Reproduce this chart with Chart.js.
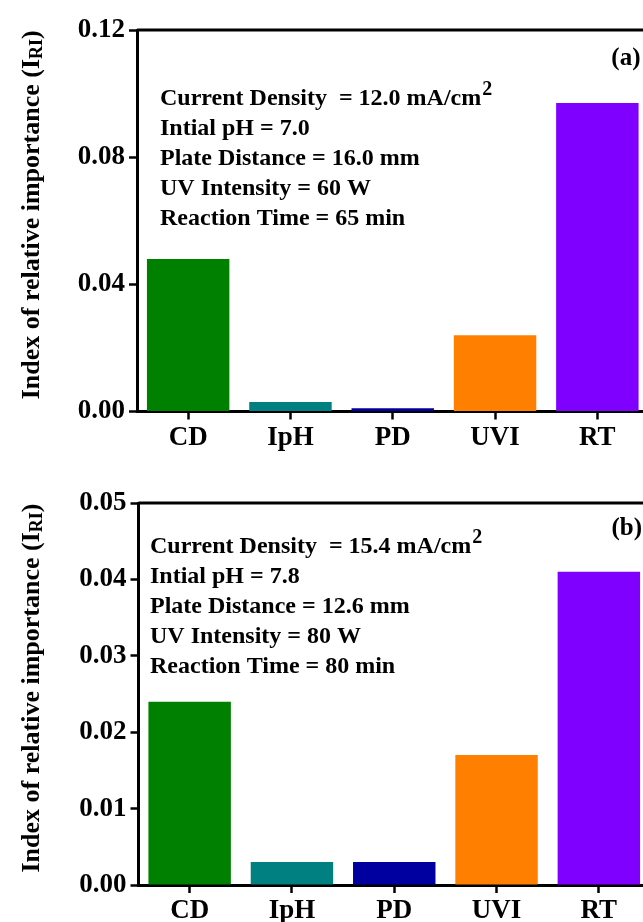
<!DOCTYPE html>
<html>
<head>
<meta charset="utf-8">
<script src="https://cdn.jsdelivr.net/npm/chart.js@4"></script>
<style>
    html, body { margin: 0; padding: 0; background: #fff; overflow: hidden; width: 643px; height: 922px; }
    .panel { position: absolute; left: 0; width: 660px; height: 461px; }
</style>
</head>
<body>
<div class="panel" style="top:0"><canvas id="chartA" width="660" height="461"></canvas></div>
<div class="panel" style="top:461px"><canvas id="chartB" width="660" height="461"></canvas></div>
<script>
var categories = ['CD', 'IpH', 'PD', 'UVI', 'RT'];
var barColors = ['#008000', '#008080', '#0000a0', '#ff8000', '#8000ff'];

var valuesA = [0.048, 0.003, 0.001, 0.024, 0.097];
var ticksA = [0, 0.04, 0.08, 0.12];
var conditionsA = ['Current Density  = 12.0 mA/cm^2', 'Intial pH = 7.0', 'Plate Distance = 16.0 mm', 'UV Intensity = 60 W', 'Reaction Time = 65 min'];

var valuesB = [0.024, 0.003, 0.003, 0.017, 0.041];
var ticksB = [0, 0.01, 0.02, 0.03, 0.04, 0.05];
var conditionsB = ['Current Density  = 15.4 mA/cm^2', 'Intial pH = 7.8', 'Plate Distance = 12.6 mm', 'UV Intensity = 80 W', 'Reaction Time = 80 min'];

var yTitle = 'Index of relative importance (I';
var yTitleSub = 'RI';

var serif = '"Liberation Serif", "Times New Roman", serif';

// frame, condition text, panel letter and the y title with its subscript
var extrasPlugin = {
    id: 'extras',
    afterDraw: function (chart, args, opts) {
        var ctx = chart.ctx;
        var a = chart.chartArea;

        ctx.save();
        ctx.strokeStyle = '#000';
        ctx.lineWidth = 3;
        ctx.beginPath();
        ctx.moveTo(a.left, a.top);
        ctx.lineTo(a.right, a.top);
        ctx.lineTo(a.right, a.bottom);
        ctx.stroke();

        ctx.fillStyle = '#000';
        ctx.textBaseline = 'alphabetic';
        ctx.textAlign = 'left';
        opts.lines.forEach(function (line, i) {
            var parts = line.split('^');
            var x = a.left + opts.textDx;
            var y = a.top + opts.textDy + i * 30;
            ctx.font = 'bold 24px ' + serif;
            ctx.fillText(parts[0], x, y);
            if (parts[1]) {
                var w = ctx.measureText(parts[0]).width;
                ctx.font = 'bold 20px ' + serif;
                ctx.fillText(parts[1], x + w + 1, y - 10);
            }
        });

        ctx.font = 'bold 25px ' + serif;
        ctx.textAlign = 'right';
        ctx.fillText(opts.letter, a.right - 8, a.top + opts.letterDy);

        // rotated axis title
        ctx.translate(opts.titleX, (a.top + a.bottom) / 2 - 6);
        ctx.rotate(-Math.PI / 2);
        ctx.textAlign = 'left';
        ctx.font = 'bold 26px ' + serif;
        var w1 = ctx.measureText(yTitle).width;
        ctx.font = 'bold 18px ' + serif;
        var w2 = ctx.measureText(yTitleSub).width;
        ctx.font = 'bold 26px ' + serif;
        var w3 = ctx.measureText(')').width;
        var start = -(w1 + w2 + w3) / 2;
        ctx.fillText(yTitle, start, 0);
        ctx.font = 'bold 18px ' + serif;
        ctx.fillText(yTitleSub, start + w1, 3);
        ctx.font = 'bold 26px ' + serif;
        ctx.fillText(')', start + w1 + w2, 0);
        ctx.restore();
    }
};

function makeChart(canvasId, values, ticks, conditions, box) {
    var canvas = document.getElementById(canvasId);
    return new Chart(canvas, {
        type: 'bar',
        data: {
            labels: categories,
            datasets: [{
                data: values,
                backgroundColor: barColors,
                borderWidth: 0,
                barPercentage: 0.806,
                categoryPercentage: 1.0
            }]
        },
        options: {
            responsive: false,
            animation: false,
            devicePixelRatio: 1,
            layout: { padding: { top: box.top, right: box.right, left: 0, bottom: 0 } },
            plugins: {
                legend: { display: false },
                tooltip: { enabled: false },
                extras: {
                    lines: conditions,
                    textDx: box.textDx,
                    textDy: box.textDy,
                    letter: box.letter,
                    letterDy: box.letterDy,
                    titleX: 39
                }
            },
            scales: {
                x: {
                    offset: true,
                    grid: { display: true, offset: false, drawOnChartArea: false, tickLength: 8, tickWidth: 2.5, tickColor: '#000' },
                    border: { display: true, color: '#000', width: 3 },
                    ticks: { color: '#000', padding: 2, font: { family: serif, size: 27, weight: 'bold' } },
                    afterFit: function (scale) { scale.height = box.xHeight; }
                },
                y: {
                    min: ticks[0],
                    max: ticks[ticks.length - 1],
                    afterBuildTicks: function (scale) {
                        scale.ticks = ticks.map(function (v) { return { value: v }; });
                    },
                    grid: { display: true, drawOnChartArea: false, tickLength: 8, tickWidth: 2.5, tickColor: '#000' },
                    border: { display: true, color: '#000', width: 3 },
                    ticks: {
                        color: '#000',
                        padding: 4,
                        font: { family: serif, size: 27, weight: 'bold' },
                        callback: function (v) { return Number(v).toFixed(2); }
                    },
                    afterFit: function (scale) { scale.width = box.left; }
                }
            }
        },
        plugins: [extrasPlugin]
    });
}

makeChart('chartA', valuesA, ticksA, conditionsA,
    { top: 30, right: 11.5, left: 137, xHeight: 49.5, textDx: 23, textDy: 75, letter: '(a)', letterDy: 35 });
makeChart('chartB', valuesB, ticksB, conditionsB,
    { top: 42, right: 10, left: 138.5, xHeight: 37, textDx: 11.5, textDy: 50, letter: '(b)', letterDy: 32 });
</script>
</body>
</html>
